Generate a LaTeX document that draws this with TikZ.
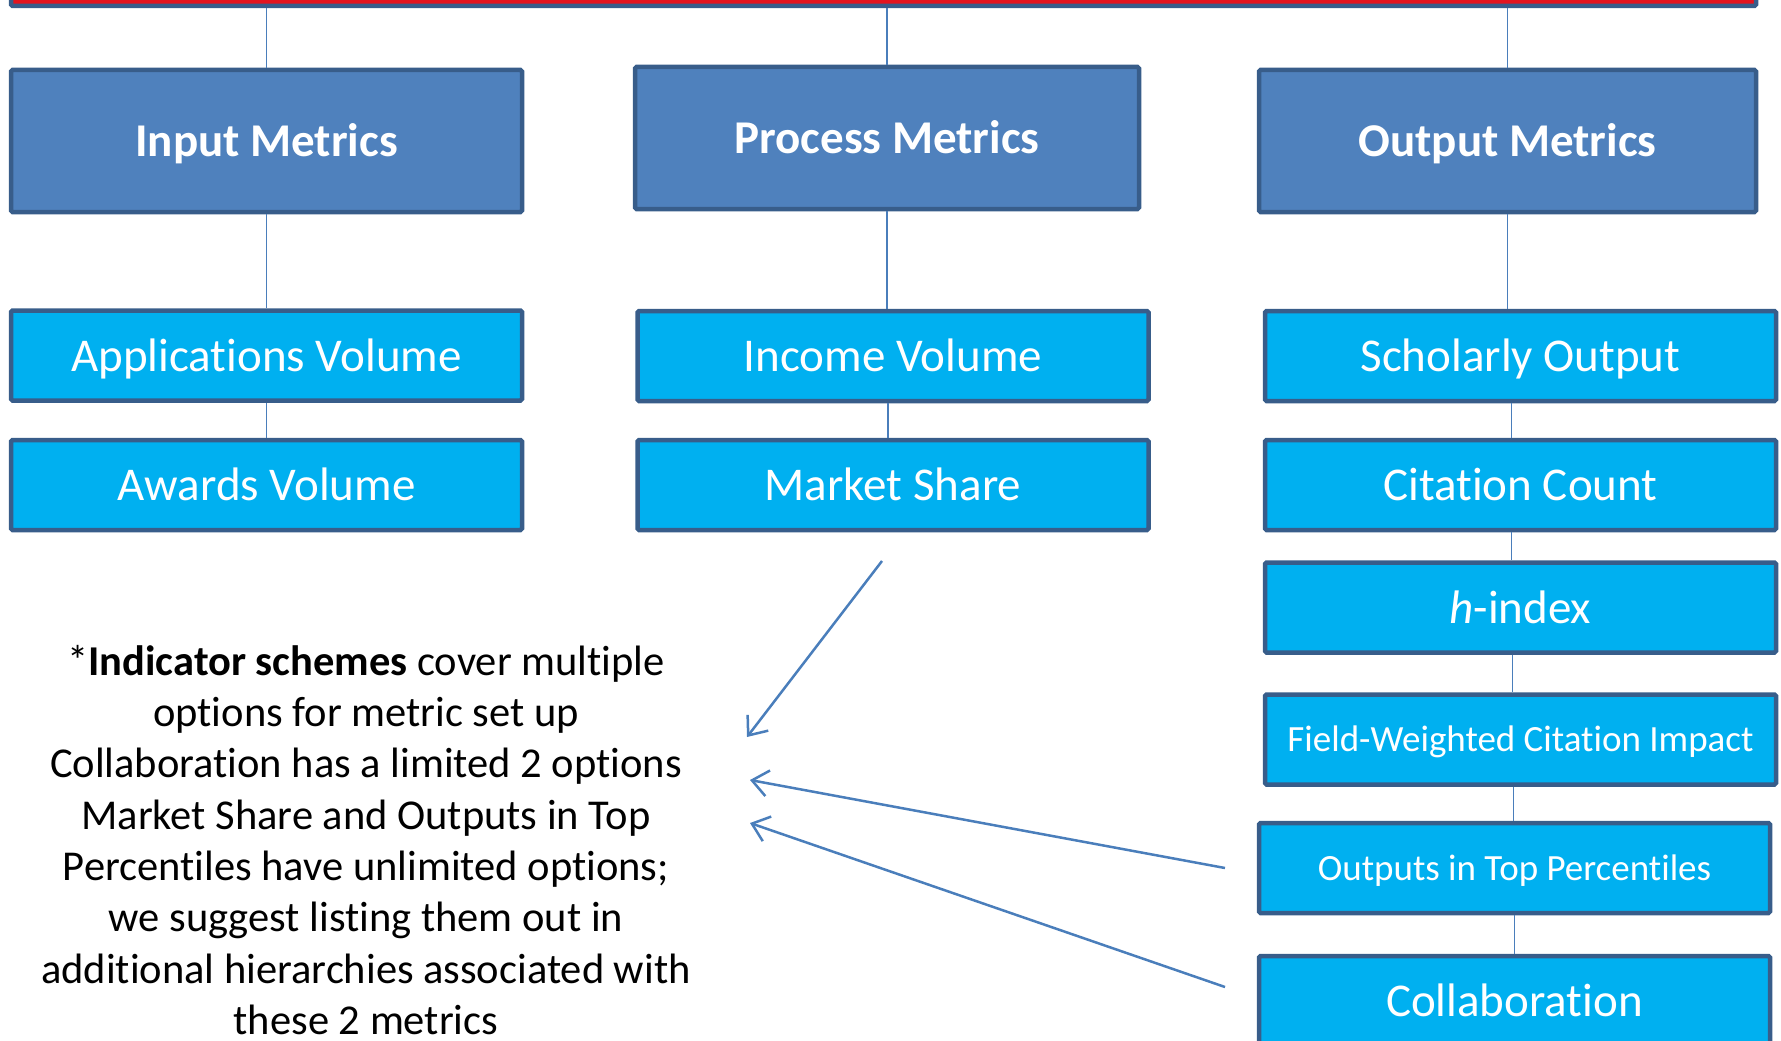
\documentclass[tikz,border=0pt]{standalone}
\usepackage{fontspec}
\setmainfont{Carlito}[Ligatures={NoCommon,NoContextual}]
\usetikzlibrary{arrows.meta}
\definecolor{hdr}{HTML}{4F81BD}
\definecolor{edgeblue}{HTML}{385D8A}
\definecolor{cyanbox}{HTML}{00B0F0}
\definecolor{redbar}{HTML}{E3141E}
\definecolor{linkblue}{HTML}{4A7EBB}
\begin{document}
\begin{tikzpicture}[x=1pt,y=-1pt,
  hdrbox/.style={draw=edgeblue, line width=4.5pt, fill=hdr, rounded corners=1.5pt, text=white,
    font=\fontsize{47}{56}\selectfont\bfseries, minimum height=142pt, text height=31pt, text depth=0pt},
  metbox/.style={draw=edgeblue, line width=4.5pt, fill=cyanbox, rounded corners=1.5pt, text=white,
    font=\fontsize{47}{56}\selectfont, minimum width=511pt, minimum height=90pt, text height=31pt, text depth=0pt},
  smallmet/.style={metbox, font=\fontsize{37}{44}\selectfont, text height=24.5pt},
  conn/.style={draw=linkblue, line width=1.6pt},
  arr/.style={draw=linkblue, line width=2.5pt, -{Straight Barb[length=16pt,width=26pt,line width=2.5pt]}}]
\useasboundingbox (0,0) rectangle (1781,1041);

% top bar (cut off)
\node[draw=edgeblue, line width=4.5pt, fill=redbar, rounded corners=1.5pt,
  minimum width=1745pt, minimum height=60pt, inner sep=0pt] (top) at (883.5,-24) {};

% headers
\node[hdrbox, minimum width=511pt] (im) at (266.5,141) {Input Metrics};
\node[hdrbox, minimum width=504pt] (pm) at (887,138) {Process Metrics};
\node[hdrbox, minimum width=497pt] (om) at (1507.5,141) {Output Metrics};

% input column
\node[metbox] (apv) at (266.5,355.5) {Applications Volume};
\node[metbox] (awv) at (266.5,485) {Awards Volume};

% process column
\node[metbox] (inc) at (893,356) {Income Volume};
\node[metbox] (msh) at (893,485) {Market Share};

% output column
\node[metbox] (sco) at (1520.5,356) {Scholarly Output};
\node[metbox] (cit) at (1520.5,485) {Citation Count};
\node[metbox] (hix) at (1520.5,607.5) {\itshape h\upshape -index};
\node[smallmet] (fwc) at (1520.5,739.5) {Field-Weighted Citation Impact};
\node[smallmet] (otp) at (1514.5,868) {Outputs in Top Percentiles};
\node[metbox] (col) at (1514.5,1001) {Collaboration};

% connectors
\draw[conn] (im.north) -- (im.north |- top.south);
\draw[conn] (pm.north) -- (pm.north |- top.south);
\draw[conn] (om.north) -- (om.north |- top.south);
\draw[conn] (im.south) -- (im.south |- apv.north);
\draw[conn] (apv.south) -- (apv.south |- awv.north);
\draw[conn] (pm.south) -- (pm.south |- inc.north);
\draw[conn] ([xshift=-5pt]inc.south) -- ([xshift=-5pt]inc.south |- msh.north);
\draw[conn] (om.south) -- (om.south |- sco.north);
\draw[conn] ([xshift=-9pt]sco.south) -- ([xshift=-9pt]sco.south |- cit.north);
\draw[conn] ([xshift=-9pt]cit.south) -- ([xshift=-9pt]cit.south |- hix.north);
\draw[conn] ([xshift=-8pt]hix.south) -- ([xshift=-8pt]hix.south |- fwc.north);
\draw[conn] ([xshift=-7pt]fwc.south) -- ([xshift=-7pt]fwc.south |- otp.north);
\draw[conn] (otp.south) -- (otp.south |- col.north);

% note
\node[align=center, font=\fontsize{42.5}{51.3}\selectfont, inner sep=0pt] (note) at (366,840)
  {*\textbf{Indicator schemes} cover multiple\\
   options for metric set up\\
   Collaboration has a limited 2 options\\
   Market Share and Outputs in Top\\
   Percentiles have unlimited options;\\
   we suggest listing them out in\\
   additional hierarchies associated with\\
   these 2 metrics};

% arrows
\coordinate (a1s) at (882,561);
\coordinate (a1e) at (747,737);
\coordinate (a2s) at (1225,868);
\coordinate (a2e) at (750,780);
\coordinate (a3s) at (1225,987);
\coordinate (a3e) at (750,823);
\draw[arr] (a1s) -- (a1e);
\draw[arr] (a2s) -- (a2e);
\draw[arr] (a3s) -- (a3e);
\end{tikzpicture}
\end{document}
